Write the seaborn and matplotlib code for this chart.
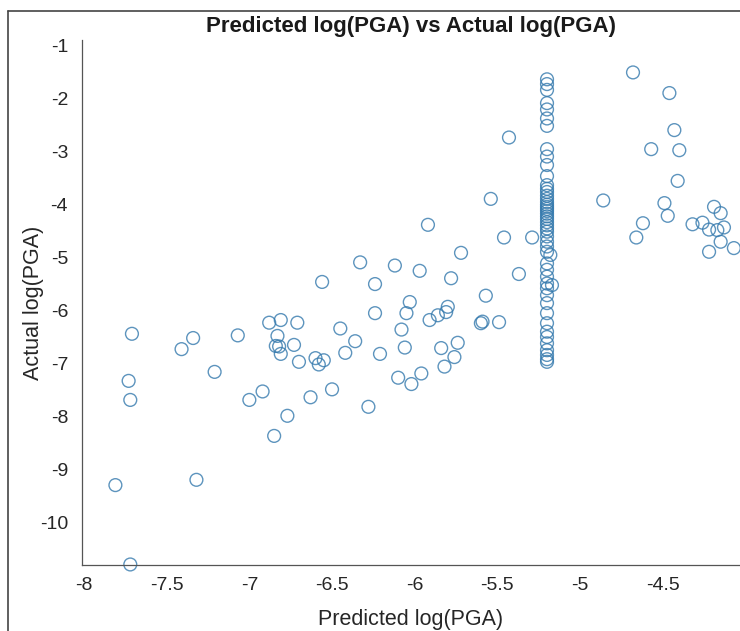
import matplotlib
matplotlib.use("Agg")
import matplotlib.pyplot as plt
import seaborn as sns
import pandas as pd
from matplotlib.lines import Line2D

# scattered points (predicted, actual)
pred_scatter = [
    -7.81, -7.32, -7.72, -6.85, -6.77, -6.56, -6.88, -6.81, -6.71, -7.71,
    -7.41, -7.34, -7.07, -6.83, -6.84, -6.82, -6.81, -6.73, -6.70, -6.60,
    -6.55, -6.58, -7.73, -7.72, -7.21, -7.00, -6.92, -6.63, -6.50,
    -5.54, -5.92, -5.46, -5.72, -6.33, -6.12, -5.97, -5.78, -6.24, -5.57,
    -6.03, -6.05, -6.24, -5.80, -5.81, -5.86, -5.91, -5.60, -5.59, -5.49,
    -6.45, -6.08, -6.36, -6.06, -5.84, -5.74, -6.42, -6.21, -5.76, -5.82,
    -6.10, -5.96, -6.02, -6.28,
    -5.43, -5.29, -5.37, -4.68, -4.46, -4.43, -4.57, -4.40, -4.41, -4.86,
    -4.49, -4.47, -4.62, -4.66, -4.19, -4.15, -4.32, -4.26, -4.22, -4.17,
    -4.13, -4.15, -4.22, -4.07,
]
actual_scatter = [
    -9.30, -9.20, -10.80, -8.37, -7.99, -5.46, -6.23, -6.18, -6.23, -6.44,
    -6.73, -6.52, -6.47, -6.48, -6.67, -6.68, -6.82, -6.65, -6.97, -6.90,
    -6.94, -7.02, -7.33, -7.69, -7.16, -7.69, -7.53, -7.64, -7.49,
    -3.89, -4.38, -4.62, -4.91, -5.09, -5.15, -5.25, -5.39, -5.50, -5.72,
    -5.84, -6.05, -6.05, -5.93, -6.03, -6.09, -6.18, -6.24, -6.21, -6.22,
    -6.34, -6.36, -6.58, -6.70, -6.71, -6.61, -6.80, -6.82, -6.88, -7.06,
    -7.27, -7.19, -7.39, -7.82,
    -2.73, -4.62, -5.31, -1.50, -1.89, -2.59, -2.95, -2.97, -3.55, -3.92,
    -3.97, -4.21, -4.35, -4.62, -4.04, -4.16, -4.37, -4.34, -4.47, -4.48,
    -4.43, -4.70, -4.89, -4.82,
]

# vertical stack of points at predicted = -5.2
pred_column = [
    -5.20, -5.20, -5.20, -5.20, -5.20, -5.20, -5.20, -5.20, -5.20, -5.20,
    -5.20, -5.20, -5.20, -5.20, -5.20, -5.20, -5.20, -5.20, -5.20, -5.20,
    -5.20, -5.20, -5.20, -5.20, -5.20, -5.20, -5.20, -5.20, -5.20, -5.20,
    -5.20, -5.20, -5.20, -5.20, -5.20, -5.20, -5.20, -5.20, -5.20, -5.20,
    -5.20, -5.20, -5.20, -5.20, -5.20, -5.20, -5.18, -5.17, -5.20, -5.20,
]
actual_column = [
    -1.63, -1.72, -1.83, -2.08, -2.20, -2.37, -2.51, -2.95, -3.09, -3.25,
    -3.46, -3.63, -3.70, -3.76, -3.83, -3.89, -3.95, -4.00, -4.04, -4.08,
    -4.12, -4.17, -4.22, -4.27, -4.33, -4.39, -4.45, -4.51, -4.60, -4.70,
    -4.79, -4.89, -5.11, -5.23, -5.36, -5.49, -5.58, -5.71, -5.86, -6.05,
    -6.24, -6.40, -6.50, -6.62, -6.75, -6.84, -4.95, -5.52, -6.92, -6.97,
]

x_ticks = [-8, -7.5, -7, -6.5, -6, -5.5, -5, -4.5]
x_tick_labels = ["-8", "-7.5", "-7", "-6.5", "-6", "-5.5", "-5", "-4.5"]
y_ticks = [-10, -9, -8, -7, -6, -5, -4, -3, -2, -1]
y_tick_labels = ["-10", "-9", "-8", "-7", "-6", "-5", "-4", "-3", "-2", "-1"]

df = pd.DataFrame({
    "pred": pred_scatter + pred_column,
    "actual": actual_scatter + actual_column,
})

sns.set_style("white")
plt.rcParams["font.family"] = ["Liberation Sans", "DejaVu Sans"]

fig = plt.figure(figsize=(7.4, 6.31), dpi=100)
ax = fig.add_axes([82 / 740, 66 / 631, (740 - 82) / 740, (565 - 40) / 631])

sns.scatterplot(
    data=df, x="pred", y="actual", ax=ax,
    marker="o", s=85, facecolor="none",
    edgecolor="#3479ad", linewidth=1.0, alpha=0.8,
    clip_on=False,
)

ax.set_xlim(-8.012, -4.033)
ax.set_ylim(-10.81, -0.887)
ax.set_xticks(x_ticks)
ax.set_xticklabels(x_tick_labels)
ax.set_yticks(y_ticks)
ax.set_yticklabels(y_tick_labels)
ax.tick_params(direction="in", length=4, width=0.8, colors="#404040",
               labelsize=14, labelcolor="#262626")
ax.tick_params(axis="x", pad=9)
ax.tick_params(axis="y", pad=10)

for side in ["top", "right"]:
    ax.spines[side].set_visible(False)
for side in ["left", "bottom"]:
    ax.spines[side].set_color("#555555")
    ax.spines[side].set_linewidth(0.9)

ax.set_xlabel("Predicted log(PGA)", fontsize=15.5, color="#262626")
ax.set_ylabel("Actual log(PGA)", fontsize=15.5, color="#262626")
ax.xaxis.set_label_coords(0.5, -0.083)
ax.yaxis.set_label_coords(-0.057, 0.5)
ax.set_title("Predicted log(PGA) vs Actual log(PGA)", fontsize=16,
             fontweight="bold", color="#1a1a1a", pad=6)

# screenshot frame
fig.add_artist(Line2D([8 / 740, 1], [1 - 11 / 631, 1 - 11 / 631],
                      transform=fig.transFigure, color="#444444", lw=1.2))
fig.add_artist(Line2D([8 / 740, 8 / 740], [0, 1 - 11 / 631],
                      transform=fig.transFigure, color="#444444", lw=1.2))

fig.savefig("out.png", dpi=100)
